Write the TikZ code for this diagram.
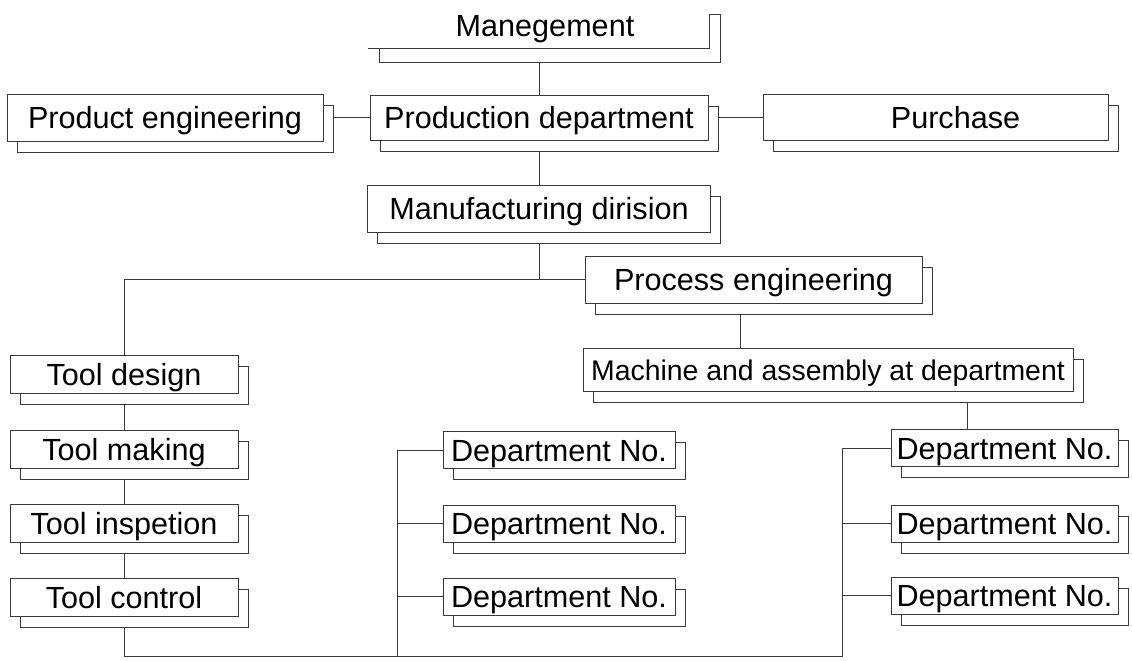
\documentclass[tikz,border=0pt]{standalone}
\usepackage{fontspec}
\setmainfont{Liberation Sans}
\usetikzlibrary{backgrounds,shadows}
\definecolor{ink}{HTML}{3a3a3a}

\begin{document}
\begin{tikzpicture}[x=0.5pt,y=-0.5pt,every path/.style={line width=0.5pt}]

        \tikzset{plain/.style = {inner sep=0pt, text height=11pt, text depth=0pt, font=\fontsize{15.3}{17}\selectfont}}
        \tikzset{unit/.style = {plain, draw=ink, fill=white, general shadow={shadow xshift=5pt, shadow yshift=-5.5pt, draw=ink, fill=white}}}
        \tikzset{tool/.style = {unit, minimum width=114pt, minimum height=19pt}}
        \tikzset{dept/.style = {unit, minimum width=116pt, minimum height=18.5pt}}
        \tikzset{link/.style = {draw=ink}}

        \useasboundingbox (0,0) rectangle (1132,660);

        \node[plain, minimum width=170.5pt, minimum height=23pt] (mgmt) at (538.5,25) {\hspace*{6.5pt}Manegement};
        \node[unit, minimum width=158pt, minimum height=23.5pt] (prodeng) at (165,117.5) {Product engineering};
        \node[unit, minimum width=169pt, minimum height=22.5pt] (prod) at (539,117.5) {Production department};
        \node[unit, minimum width=172.5pt, minimum height=23pt] (purch) at (935.5,117.5) {\hspace*{20pt}Purchase};
        \node[unit, minimum width=171.5pt, minimum height=23.5pt] (manu) at (539,208.5) {Manufacturing dirision};
        \node[unit, minimum width=168.5pt, minimum height=23.5pt] (proceng) at (753.5,279.5) {Process engineering};
        \node[unit, minimum width=245pt, minimum height=21.5pt, font=\fontsize{14.2}{16}\selectfont] (mach) at (828,369.5) {Machine and assembly at department};

        \node[tool] (td) at (124,374) {Tool design};
        \node[tool] (tm) at (124,449.5) {Tool making};
        \node[tool] (ti) at (124,523.5) {Tool inspetion};
        \node[tool] (tc) at (124,597.5) {Tool control};

        \node[dept] (d1) at (559,450) {Department No.};
        \node[dept] (d2) at (559,523.5) {Department No.};
        \node[dept] (d3) at (559,596.5) {Department No.};
        \node[dept, minimum width=113.5pt] (e1) at (1004.5,448) {Department No.};
        \node[dept, minimum width=113.5pt] (e2) at (1004.5,523.5) {Department No.};
        \node[dept, minimum width=113.5pt] (e3) at (1004.5,595.5) {Department No.};

        % open box of the top unit
        \draw[link] (mgmt.south west) -- (mgmt.south east) -- ++(0,-34) -- ++(11,0) -- ++(0,48) -- ++(-341,0) -- ++(0,-14);

        \begin{scope}[on background layer]
        \draw[link] (prod.north) -- ([yshift=-7pt]mgmt.south -| prod.north);
        \draw[link] (prodeng) -- (prod);
        \draw[link] (prod) -- (purch);
        \draw[link] (prod) -- (manu);
        \draw[link] (manu) |- (proceng);
        \draw[link] (manu |- proceng) -| (td);
        \coordinate (pm) at ([xshift=-6.75pt]proceng.south);
        \draw[link] (pm) -- (pm |- mach.north);
        \coordinate (me) at (967,400);
        \draw[link] (me |- mach.south) -- (me |- e1.north);
        \draw[link] (td) -- (tm) -- (ti) -- (tc);
        \coordinate (dbus) at (397,656);
        \coordinate (ebus) at (842,656);
        \draw[link] (tc) |- (ebus) |- (e1);
        \draw[link] (dbus) |- (d1);
        \draw[link] (dbus |- d2) -- (d2);
        \draw[link] (dbus |- d3) -- (d3);
        \draw[link] (ebus |- e2) -- (e2);
        \draw[link] (ebus |- e3) -- (e3);
        \end{scope}
\end{tikzpicture}
\end{document}
